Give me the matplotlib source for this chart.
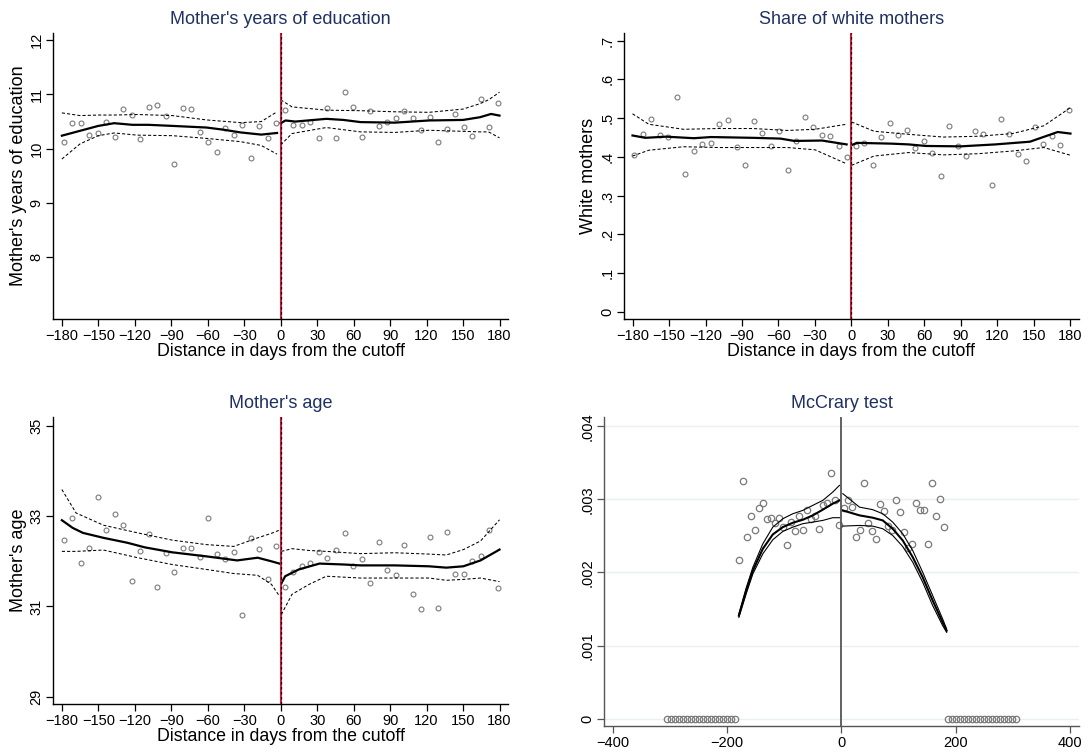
import matplotlib
matplotlib.use("Agg")
import matplotlib.pyplot as plt

plt.rcParams['font.family'] = ['Liberation Sans', 'DejaVu Sans']

# bin centres (days from cutoff) for the RD panels
days_left = [-178.5, -171.5, -164.5, -157.5, -150.5, -143.5, -136.5, -129.5, -122.5,
             -115.5, -108.5, -101.5, -94.5, -87.5, -80.5, -73.5, -66.5, -59.5, -52.5,
             -45.5, -38.5, -31.5, -24.5, -17.5, -10.5, -3.5]
days_right = [3.5, 10.5, 17.5, 24.5, 31.5, 38.5, 45.5, 52.5, 59.5, 66.5, 73.5, 80.5,
              87.5, 94.5, 101.5, 108.5, 115.5, 122.5, 129.5, 136.5, 143.5, 150.5,
              157.5, 164.5, 171.5, 178.5]

# Mother's years of education
edu_left = [10.12, 10.47, 10.47, 10.25, 10.29, 10.50, 10.21, 10.74, 10.62, 10.18, 10.77,
            10.80, 10.60, 9.72, 10.75, 10.74, 10.31, 10.13, 9.94, 10.38, 10.25, 10.43,
            9.83, 10.41, 10.20, 10.47]
edu_right = [10.71, 10.43, 10.44, 10.50, 10.20, 10.75, 10.20, 11.04, 10.77, 10.21, 10.69,
             10.42, 10.49, 10.56, 10.69, 10.56, 10.35, 10.59, 10.12, 10.36, 10.64, 10.40,
             10.23, 10.91, 10.40, 10.84]
edu_fit_lx = [-180, -165, -150, -137, -122, -109, -89, -61, -47, -33, -16, -3]
edu_fit_l = [10.24, 10.33, 10.42, 10.47, 10.44, 10.44, 10.42, 10.39, 10.35, 10.30, 10.26, 10.29]
edu_ci_lx = [-180, -165, -150, -137, -118, -89, -61, -33, -16, -3]
edu_hi_l = [10.66, 10.61, 10.62, 10.62, 10.63, 10.61, 10.53, 10.48, 10.50, 10.68]
edu_lo_l = [9.81, 10.09, 10.24, 10.29, 10.25, 10.24, 10.19, 10.13, 10.06, 9.90]
edu_fit_rx = [0, 4, 12, 37.5, 51.6, 65.7, 93.9, 122, 150, 164, 173, 180]
edu_fit_r = [10.47, 10.52, 10.50, 10.55, 10.53, 10.49, 10.48, 10.52, 10.53, 10.58, 10.64, 10.61]
edu_ci_rx = [0, 9.3, 37.5, 65.7, 93.9, 122, 150, 164, 171, 180]
edu_hi_r = [10.90, 10.77, 10.71, 10.70, 10.68, 10.67, 10.73, 10.83, 10.90, 11.04]
edu_lo_r = [10.07, 10.28, 10.39, 10.31, 10.30, 10.34, 10.32, 10.31, 10.31, 10.20]

# Share of white mothers
white_left = [0.405, 0.458, 0.497, 0.455, 0.450, 0.554, 0.355, 0.414, 0.432, 0.436, 0.484,
              0.494, 0.425, 0.380, 0.493, 0.461, 0.427, 0.467, 0.366, 0.440, 0.504, 0.476,
              0.457, 0.454, 0.428, 0.399]
white_right = [0.429, 0.435, 0.380, 0.452, 0.487, 0.456, 0.468, 0.423, 0.440, 0.410, 0.351,
               0.480, 0.427, 0.403, 0.467, 0.460, 0.328, 0.497, 0.460, 0.406, 0.389, 0.476,
               0.432, 0.453, 0.431, 0.521]
white_fit_lx = [-180, -169.5, -152.4, -129.6, -115.4, -81.2, -58.4, -47, -24.2, -4]
white_fit_l = [0.455, 0.449, 0.452, 0.448, 0.451, 0.449, 0.447, 0.441, 0.442, 0.432]
white_ci_lx = [-180, -166.6, -138.1, -109.7, -81.2, -52.7, -29.9, -4]
white_hi_l = [0.511, 0.484, 0.471, 0.473, 0.473, 0.468, 0.471, 0.484]
white_lo_l = [0.402, 0.417, 0.426, 0.424, 0.424, 0.424, 0.418, 0.382]
white_fit_rx = [0, 4.3, 32.8, 47, 61.2, 89.7, 118.2, 146.7, 169.5, 180]
white_fit_r = [0.430, 0.436, 0.434, 0.432, 0.428, 0.427, 0.432, 0.439, 0.464, 0.460]
white_ci_rx = [0, 18.5, 47, 75.5, 104, 132.4, 158.1, 180]
white_hi_r = [0.490, 0.466, 0.458, 0.451, 0.453, 0.460, 0.480, 0.527]
white_lo_r = [0.378, 0.402, 0.411, 0.405, 0.408, 0.415, 0.424, 0.404]

# Mother's age
age_left = [32.47, 32.95, 31.96, 32.30, 33.42, 32.70, 33.05, 32.80, 31.56, 32.22, 32.61,
            31.44, 32.19, 31.77, 32.30, 32.30, 32.10, 32.95, 32.16, 32.05, 32.21, 30.82,
            32.52, 32.28, 31.61, 32.35]
age_right = [31.44, 31.77, 31.89, 31.96, 32.20, 32.08, 32.25, 32.62, 31.89, 32.06, 31.53,
             32.42, 31.80, 31.70, 32.36, 31.27, 30.94, 32.54, 30.97, 32.66, 31.72, 31.72,
             32.00, 32.11, 32.70, 31.41]
age_fit_lx = [-180, -171.1, -162.7, -145.8, -126, -111.9, -89.4, -61.2, -47.1, -35.8, -18.9, -7.6, -1]
age_fit_l = [32.91, 32.74, 32.63, 32.52, 32.41, 32.31, 32.20, 32.11, 32.06, 32.02, 32.08, 32.00, 31.95]
age_ci_lx = [-180, -168.3, -145.8, -117.6, -89.4, -61.2, -38.6, -18.9, -7.6, -1]
age_hi_l = [33.59, 33.07, 32.80, 32.63, 32.47, 32.37, 32.33, 32.52, 32.62, 32.69]
age_lo_l = [32.22, 32.22, 32.25, 32.08, 31.93, 31.82, 31.73, 31.69, 31.49, 31.23]
age_fit_rx = [0.5, 3.7, 14.9, 31.9, 51.6, 65.7, 93.9, 122, 136.2, 150.3, 164.4, 180]
age_fit_r = [31.51, 31.67, 31.82, 31.95, 31.93, 31.91, 31.91, 31.89, 31.86, 31.89, 32.02, 32.26]
age_ci_rx = [0.5, 9.3, 23.4, 37.5, 65.7, 93.9, 122, 136.2, 150.3, 164.4, 180]
age_hi_r = [32.22, 32.28, 32.24, 32.22, 32.17, 32.19, 32.16, 32.14, 32.26, 32.45, 32.92]
age_lo_r = [30.82, 31.27, 31.49, 31.67, 31.63, 31.63, 31.63, 31.58, 31.60, 31.63, 31.55]

# McCrary density test
mc_left_x = [-179, -172, -165, -158, -151, -144, -137, -130, -123, -116, -109, -102, -95,
             -88, -81, -74, -67, -60, -53, -46, -39, -32, -25, -18, -11, -4]
mc_left = [0.002177, 0.003251, 0.002488, 0.002767, 0.002584, 0.002877, 0.002955, 0.002730,
           0.002749, 0.002680, 0.002749, 0.002620, 0.002379, 0.002685, 0.002565, 0.002776,
           0.002584, 0.002859, 0.002730, 0.002767, 0.002598, 0.002927, 0.002949, 0.003361,
           0.002996, 0.002653]
mc_right_x = [4, 11, 18, 25, 32, 39, 46, 53, 60, 67, 74, 81, 88, 95, 102, 109, 116, 123,
              130, 137, 144, 151, 158, 165, 172, 179]
mc_right = [0.002886, 0.002986, 0.002895, 0.002488, 0.002579, 0.003229, 0.002675, 0.002561,
            0.002451, 0.002936, 0.002840, 0.002634, 0.002575, 0.002986, 0.002822, 0.002551,
            0.002332, 0.002392, 0.002949, 0.002859, 0.002859, 0.002392, 0.003229, 0.002767,
            0.003010, 0.002620]
mc_zero_x = [-305, -298, -291, -284, -277, -270, -263, -256, -249, -242, -235, -228, -221,
             -214, -207, -200, -193, -186, 186, 193, 200, 207, 214, 221, 228, 235, 242,
             249, 256, 263, 270, 277, 284, 291, 298, 305]
mc_fit_lx = [-179.3, -166.4, -154.8, -137.4, -120, -102.5, -85, -67.6, -50.1, -32.6, -15.2, -3.5]
mc_fit_l = [0.001409, 0.001752, 0.002026, 0.002324, 0.002520, 0.002620, 0.002680, 0.002721,
            0.002781, 0.002859, 0.002941, 0.002986]
mc_hi_l = [0.001430, 0.001790, 0.002071, 0.002392, 0.002620, 0.002735, 0.002803, 0.002849,
           0.002918, 0.002986, 0.003100, 0.003192]
mc_lo_l = [0.001385, 0.001710, 0.001981, 0.002255, 0.002447, 0.002561, 0.002620, 0.002667,
           0.002689, 0.002712, 0.002749, 0.002749]
mc_fit_rx = [2.3, 31.4, 54.6, 72.1, 89.5, 107, 124.5, 141.9, 159.4, 176.8, 183.8]
mc_fit_r = [0.002849, 0.002781, 0.002749, 0.002712, 0.002598, 0.002438, 0.002209, 0.001934,
            0.001615, 0.001317, 0.001203]
mc_hi_r = [0.003078, 0.002894, 0.002859, 0.002803, 0.002689, 0.002530, 0.002300, 0.002003,
           0.001683, 0.001363, 0.001226]
mc_lo_r = [0.002634, 0.002643, 0.002634, 0.002598, 0.002506, 0.002355, 0.002140, 0.001866,
           0.001546, 0.001272, 0.001180]

TITLE_C = '#1e3160'
MARK_C = '#7a7a7a'
RED = '#d81b3c'


def rd_panel(ax, title, ylabel, yl, yticks, yticklabels, pts, fits):
    lx, ly, rx, ry = pts
    ax.plot(lx, ly, 'o', ms=3.5, mfc='none', mec=MARK_C, mew=0.8, zorder=3)
    ax.plot(rx, ry, 'o', ms=3.5, mfc='none', mec=MARK_C, mew=0.8, zorder=3)
    for fx, fy, hx, hi, lo in fits:
        ax.plot(fx, fy, color='black', lw=1.6, zorder=4)
        ax.plot(hx, hi, color='black', lw=0.75, ls=(0, (3, 2)), zorder=4)
        ax.plot(hx, lo, color='black', lw=0.75, ls=(0, (3, 2)), zorder=4)
    ax.axvline(0, color=RED, lw=1.5, zorder=5)
    ax.axvline(0, color='black', lw=0.9, ls=(0, (2, 2)), zorder=6)
    ax.set_xlim(-187, 187)
    ax.set_ylim(*yl)
    ax.set_xticks([-180, -150, -120, -90, -60, -30, 0, 30, 60, 90, 120, 150, 180])
    ax.set_yticks(yticks)
    ax.set_yticklabels(yticklabels, rotation=90, va='center')
    ax.set_title(title, color=TITLE_C, fontsize=13, pad=6)
    ax.set_xlabel('Distance in days from the cutoff', fontsize=12.8, labelpad=0)
    ax.set_ylabel(ylabel, fontsize=13, labelpad=2)
    for s in ['top', 'right']:
        ax.spines[s].set_visible(False)
    for s in ['left', 'bottom']:
        ax.spines[s].set_linewidth(1.0)
    ax.tick_params(labelsize=10.5, length=5, width=0.9, pad=2)


fig = plt.figure(figsize=(10.89, 7.53), dpi=100)
ax1 = fig.add_axes([0.049, 0.576, 0.4175, 0.3805])
ax2 = fig.add_axes([0.573, 0.576, 0.4178, 0.3805])
ax3 = fig.add_axes([0.049, 0.065, 0.4175, 0.3815])
ax4 = fig.add_axes([0.5546, 0.036, 0.4362, 0.4105])

rd_panel(ax1, "Mother's years of education", "Mother's years of education",
         (6.86, 12.135), [8, 9, 10, 11, 12], ['8', '9', '10', '11', '12'],
         (days_left, edu_left, days_right, edu_right),
         [(edu_fit_lx, edu_fit_l, edu_ci_lx, edu_hi_l, edu_lo_l),
          (edu_fit_rx, edu_fit_r, edu_ci_rx, edu_hi_r, edu_lo_r)])

rd_panel(ax2, 'Share of white mothers', 'White mothers',
         (-0.019, 0.72), [0, .1, .2, .3, .4, .5, .6, .7],
         ['0', '.1', '.2', '.3', '.4', '.5', '.6', '.7'],
         (days_left, white_left, days_right, white_right),
         [(white_fit_lx, white_fit_l, white_ci_lx, white_hi_l, white_lo_l),
          (white_fit_rx, white_fit_r, white_ci_rx, white_hi_r, white_lo_r)])

rd_panel(ax3, "Mother's age", "Mother's age",
         (28.84, 35.2), [29, 31, 33, 35], ['29', '31', '33', '35'],
         (days_left, age_left, days_right, age_right),
         [(age_fit_lx, age_fit_l, age_ci_lx, age_hi_l, age_lo_l),
          (age_fit_rx, age_fit_r, age_ci_rx, age_hi_r, age_lo_r)])

# McCrary panel
ax4.set_axisbelow(True)
ax4.grid(axis='y', color='#e8f0f2', lw=1.0)
ax4.plot(mc_left_x, mc_left, 'o', ms=4.6, mfc='none', mec=MARK_C, mew=0.9, zorder=3)
ax4.plot(mc_right_x, mc_right, 'o', ms=4.6, mfc='none', mec=MARK_C, mew=0.9, zorder=3)
ax4.plot(mc_zero_x, [0] * len(mc_zero_x), 'o', ms=4.6, mfc='none', mec=MARK_C, mew=0.9, zorder=3)
ax4.plot(mc_fit_lx, mc_fit_l, color='black', lw=1.5, zorder=4)
ax4.plot(mc_fit_lx, mc_hi_l, color='black', lw=0.8, zorder=4)
ax4.plot(mc_fit_lx, mc_lo_l, color='black', lw=0.8, zorder=4)
ax4.plot(mc_fit_rx, mc_fit_r, color='black', lw=1.5, zorder=4)
ax4.plot(mc_fit_rx, mc_hi_r, color='black', lw=0.8, zorder=4)
ax4.plot(mc_fit_rx, mc_lo_r, color='black', lw=0.8, zorder=4)
ax4.axvline(0, color='#555555', lw=1.3, zorder=5)
ax4.set_xlim(-415, 415)
ax4.set_ylim(-0.0001, 0.00413)
ax4.set_xticks([-400, -200, 0, 200, 400])
ax4.set_yticks([0, .001, .002, .003, .004])
ax4.set_yticklabels(['0', '.001', '.002', '.003', '.004'], rotation=90, va='center')
ax4.set_title('McCrary test', color=TITLE_C, fontsize=13, pad=6)
for s in ['top', 'right']:
    ax4.spines[s].set_visible(False)
for s in ['left', 'bottom']:
    ax4.spines[s].set_linewidth(1.0)
    ax4.spines[s].set_color('#555555')
ax4.tick_params(labelsize=10.5, length=5, width=0.9, pad=2, color='#555555')

fig.savefig('out.png', dpi=100)
